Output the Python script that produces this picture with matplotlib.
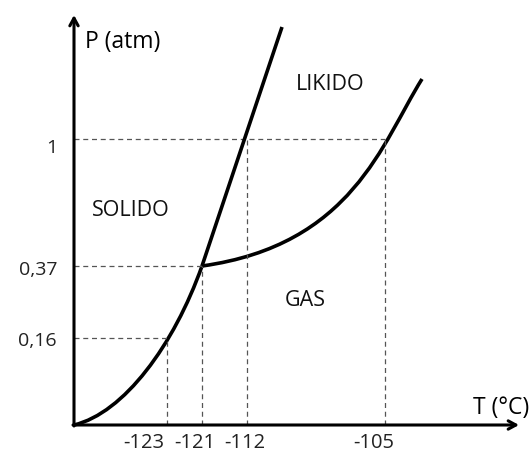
import matplotlib.pyplot as plt
from matplotlib.path import Path
from matplotlib.patches import PathPatch

plt.rcParams['font.family'] = ['Open Sans', 'DejaVu Sans']

# diagram units (schematic, not to scale): origin at the axes corner
# sublimation curve (solid-gas), cubic bezier: start, 2 control pts, end
sub_T = [0, 50, 100, 128]
sub_P = [0, 12, 80, 159]

# vaporization curve (liquid-gas), cubic bezier
vap_T = [128, 278, 308, 348]
vap_P = [159, 180, 282, 346]

# melting line (solid-liquid)
melt_T = [128, 208]
melt_P = [159, 398]

# reference points and tick labels
T_labels = ['-123', '-121', '-112', '-105']
T_label_x = [70, 121, 171, 300]
P_ticks = [87, 159, 286]
P_labels = ['0,16', '0,37', '1']
P_label_y = [84, 155, 277]
# how far right each dashed P level goes
P_reach = [93, 128, 311]
# vertical dashed lines: x position and height
V_x = [93, 128, 173, 311]
V_top = [87, 159, 286, 286]

regions = ['SOLIDO', 'LIKIDO', 'GAS']
region_xy = [(57, 215), (256, 340), (231, 125)]

fig = plt.figure(figsize=(5.3, 4.61), dpi=100)
ax = fig.add_axes([0, 0, 1, 1])
ax.set_xlim(-74, 456)
ax.set_ylim(-36, 425)
ax.axis('off')

dash = dict(color='#555555', lw=0.9, linestyle=(0, (4, 3)))
for y, xr in zip(P_ticks, P_reach):
    ax.plot([0, xr], [y, y], **dash)
for x, top in zip(V_x, V_top):
    ax.plot([x, x], [0, top], **dash)

# phase boundaries
codes = [Path.MOVETO, Path.CURVE4, Path.CURVE4, Path.CURVE4]
for xs, ys in [(sub_T, sub_P), (vap_T, vap_P)]:
    path = Path(list(zip(xs, ys)), codes)
    ax.add_patch(PathPatch(path, facecolor='none', edgecolor='black', lw=2.6,
                           capstyle='butt'))
ax.plot(melt_T, melt_P, color='black', lw=2.6, solid_capstyle='butt')

# axes with arrows
arrow = dict(arrowstyle='->,head_length=0.55,head_width=0.3', color='black', lw=2.2,
             shrinkA=0, shrinkB=0)
ax.annotate('', xy=(0, 410), xytext=(0, -1), arrowprops=arrow)
ax.annotate('', xy=(445, 0), xytext=(-1, 0), arrowprops=arrow)

ax.text(11, 383, 'P (atm)', fontsize=16.5, ha='left', va='center')
ax.text(427, 17, 'T (°C)', fontsize=16.5, ha='center', va='center')

for lab, x in zip(T_labels, T_label_x):
    ax.text(x, -18, lab, fontsize=14.5, ha='center', va='center', color='#222222')
for lab, y in zip(P_labels, P_label_y):
    ax.text(-17, y, lab, fontsize=14, ha='right', va='center', color='#222222')

for name, (x, y) in zip(regions, region_xy):
    ax.text(x, y, name, fontsize=15.5, ha='center', va='center', color='#111111')

fig.savefig('out.png', dpi=100, facecolor='white')
